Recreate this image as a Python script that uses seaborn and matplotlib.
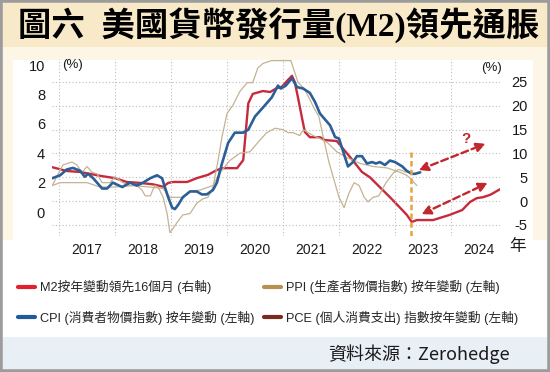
import matplotlib
matplotlib.use("Agg")
import matplotlib.pyplot as plt
import seaborn as sns
import pandas as pd
from matplotlib.patches import Rectangle
from matplotlib.lines import Line2D

# ---------------- data ----------------
title_text = "圖六  美國貨幣發行量(M2)領先通脹"
source_text = "資料來源：Zerohedge"
year_labels = ["2017", "2018", "2019", "2020", "2021", "2022", "2023", "2024"]
left_ticks = [0, 2, 4, 6, 8, 10]
right_ticks = [-5, 0, 5, 10, 15, 20, 25]

legend_labels = ["M2按年變動領先16個月 (右軸)",
                 "CPI (消費者物價指數) 按年變動 (左軸)",
                 "PPI (生產者物價指數) 按年變動 (左軸)",
                 "PCE (個人消費支出) 指數按年變動 (左軸)"]

# M2 y/y change shifted 16 months (right axis, %)
m2_t = [2016.88, 2017.14, 2017.38, 2017.73, 2018.00, 2018.21, 2018.45, 2018.68,
        2018.86, 2018.95, 2019.04, 2019.29, 2019.46, 2019.66, 2019.82, 2019.93,
        2020.18, 2020.29, 2020.38, 2020.46, 2020.64, 2020.77, 2020.89, 2020.98,
        2021.07, 2021.16, 2021.21, 2021.27, 2021.34, 2021.39, 2021.48, 2021.66,
        2021.75, 2021.96, 2022.05, 2022.20, 2022.41, 2022.55, 2022.73, 2022.91,
        2023.13, 2023.21, 2023.30, 2023.39, 2023.68, 2023.98, 2024.20, 2024.34,
        2024.46, 2024.57, 2024.70, 2024.88]
m2_v = [7.1, 6.3, 6.1, 5.3, 4.8, 4.0, 3.8, 3.5,
        3.0, 3.8, 4.0, 4.0, 4.8, 5.5, 6.5, 6.9,
        6.9, 8.6, 20.5, 22.5, 23.1, 22.9, 23.7, 24.0,
        25.2, 26.3, 25.0, 21.6, 17.4, 14.5, 13.4, 13.4,
        12.8, 12.6, 11.3, 9.2, 6.1, 5.0, 2.9, 0.8,
        -1.9, -2.9, -4.4, -4.0, -4.0, -2.9, -1.9, -0.2,
        0.6, 0.8, 1.3, 2.5]

# CPI y/y (left axis, %)
cpi_t = [2016.88, 2017.02, 2017.14, 2017.25, 2017.38, 2017.46, 2017.52, 2017.61,
         2017.77, 2017.86, 2017.96, 2018.13, 2018.27, 2018.39, 2018.50, 2018.63,
         2018.75, 2018.84, 2018.89, 2018.95, 2019.02, 2019.07, 2019.13, 2019.21,
         2019.34, 2019.46, 2019.55, 2019.64, 2019.75, 2019.82, 2019.91, 2020.02,
         2020.14, 2020.29, 2020.38, 2020.50, 2020.64, 2020.80, 2020.91, 2020.96,
         2021.05, 2021.16, 2021.25, 2021.36, 2021.48, 2021.57, 2021.66, 2021.75,
         2021.84, 2021.93, 2022.00, 2022.05, 2022.16, 2022.25, 2022.32, 2022.41,
         2022.50, 2022.59, 2022.66, 2022.73, 2022.82, 2022.91, 2023.00, 2023.13,
         2023.21, 2023.30, 2023.36, 2023.45]
cpi_v = [2.3, 2.5, 2.9, 3.0, 2.8, 2.4, 2.6, 2.3,
         1.6, 1.6, 2.0, 1.7, 2.0, 1.8, 2.0, 2.3,
         2.5, 2.3, 1.7, 1.0, 0.3, 0.2, 0.5, 1.0,
         1.4, 1.4, 1.2, 1.2, 1.5, 2.0, 3.3, 4.7,
         5.4, 5.4, 5.6, 6.5, 7.1, 7.8, 8.6, 8.4,
         8.6, 9.1, 8.5, 8.4, 8.1, 7.5, 6.7, 6.3,
         5.9, 5.1, 5.0, 4.4, 3.1, 3.4, 3.8, 3.8,
         3.3, 3.4, 3.3, 3.4, 3.2, 3.5, 3.4, 3.1,
         2.8, 2.6, 2.6, 2.7]

# PPI y/y (left axis, %)
ppi_t = [2016.88, 2016.96, 2017.07, 2017.23, 2017.32, 2017.41, 2017.50, 2017.59,
         2017.68, 2017.77, 2017.91, 2018.00, 2018.14, 2018.27, 2018.39, 2018.48,
         2018.54, 2018.63, 2018.71, 2018.77, 2018.86, 2018.93, 2018.98, 2019.04,
         2019.11, 2019.21, 2019.34, 2019.46, 2019.57, 2019.66, 2019.75, 2019.84,
         2019.91, 2020.00, 2020.11, 2020.23, 2020.36, 2020.46, 2020.55, 2020.64,
         2020.71, 2020.80, 2021.00, 2021.14, 2021.27, 2021.38, 2021.46, 2021.55,
         2021.64, 2021.73, 2021.82, 2021.91, 2022.00, 2022.09, 2022.18, 2022.27,
         2022.36, 2022.45, 2022.52, 2022.61, 2022.71, 2022.84, 2022.98, 2023.07,
         2023.20]
ppi_v = [1.8, 2.4, 3.2, 3.4, 3.2, 2.7, 3.1, 2.7,
         2.6, 2.0, 2.0, 2.4, 2.0, 1.8, 1.8, 1.5,
         1.1, 1.1, 1.8, 1.7, 1.0, -0.1, -1.4, -1.1,
         -0.7, -0.2, -0.1, 0.6, 0.9, 1.0, 1.7, 3.5,
         5.1, 6.7, 7.3, 8.2, 8.8, 8.8, 9.8, 10.1,
         10.2, 10.3, 10.3, 10.3, 8.8, 8.4, 7.8, 7.1,
         6.5, 4.9, 3.4, 2.2, 1.0, 0.3, 1.3, 2.0,
         1.8, 1.0, 0.7, 1.0, 1.1, 2.0, 2.7, 2.9,
         2.7]

# PCE y/y (left axis, %)
pce_t = [2016.88, 2017.02, 2017.50, 2017.73, 2018.00, 2018.32, 2018.63, 2018.86,
         2018.98, 2019.20, 2019.34, 2019.52, 2019.75, 2019.88, 2020.05, 2020.23,
         2020.41, 2020.59, 2020.71, 2020.86, 2021.00, 2021.09, 2021.18, 2021.30,
         2021.36, 2021.54, 2021.66, 2021.80, 2021.96, 2022.14, 2022.38, 2022.61,
         2022.86, 2023.09, 2023.21, 2023.27, 2023.39]
pce_v = [1.8, 2.0, 2.0, 1.7, 1.7, 1.8, 1.7, 1.6,
         1.0, 1.0, 1.4, 1.5, 1.8, 2.7, 3.5, 4.0,
         4.1, 4.9, 5.4, 5.7, 5.6, 5.4, 5.4, 5.2,
         5.6, 5.2, 5.0, 4.7, 4.1, 3.7, 3.3, 3.1,
         3.0, 2.7, 2.5, 2.3, 1.8]

# annotations (left-axis data units)
turn_year = 2023.29
arrow_up = [(2023.42, 2.85), (2024.62, 4.65)]
arrow_low = [(2023.47, -0.15), (2024.66, 1.98)]
qmark_pos = (2024.27, 4.95)

# ---------------- styling ----------------
C_RED = "#c62a3c"
C_BLUE = "#2c5e98"
C_TAN = "#c4b393"
LEG_RED = "#e0202e"
LEG_BLUE = "#1f5a9c"
LEG_TAN = "#b8914f"
LEG_BROWN = "#7a2b20"

sns.set_theme(style="white")
plt.rcParams["font.family"] = ["Liberation Sans", "Noto Sans CJK TC", "DejaVu Sans"]

W, H = 550, 372
fig = plt.figure(figsize=(5.5, 3.72), dpi=100)
fig.patch.set_facecolor("white")


def frect(x0, y0, x1, y1, color, z=-10):
    r = Rectangle((x0 / W, 1 - y1 / H), (x1 - x0) / W, (y1 - y0) / H,
                  transform=fig.transFigure, facecolor=color, edgecolor="none",
                  zorder=z)
    fig.patches.append(r)


frect(0, 0, 550, 47, "#f8e9c9")
frect(0, 47, 550, 240, "#fdf5e6")
frect(13, 60, 533, 337, "white")
frect(0, 240, 550, 337, "white")
frect(0, 337, 550, 372, "#e8eff5")
fig.patches.append(Rectangle((0, 0), 1, 1, transform=fig.transFigure,
                             fill=False, edgecolor="#9c9c9c", lw=4, zorder=5))

ax = fig.add_axes([52 / W, 1 - 236 / H, 448 / W, 177 / H])
ax2 = ax.twinx()
ax.set_zorder(ax2.get_zorder() + 1)
ax.patch.set_visible(False)
ax2.patch.set_visible(False)

# right axis: M2
sns.lineplot(x=m2_t, y=m2_v, ax=ax2, color=C_RED, lw=1.7, sort=False,
             estimator=None)
# left axis: CPI, PPI, PCE
sns.lineplot(x=ppi_t, y=ppi_v, ax=ax, color=C_TAN, lw=0.9, sort=False,
             estimator=None)
sns.lineplot(x=pce_t, y=pce_v, ax=ax, color=C_TAN, lw=0.9, sort=False,
             estimator=None)
sns.lineplot(x=cpi_t, y=cpi_v, ax=ax, color=C_BLUE, lw=1.9, sort=False,
             estimator=None)

ax.set_xlim(2016.875, 2024.875)
ax.set_ylim(-1.63, 10.41)
ax2.set_ylim(-7.35, 29.83)

for a in (ax, ax2):
    for s in a.spines.values():
        s.set_visible(False)
    a.set_xlabel("")
    a.set_ylabel("")

year_starts = [int(y) for y in year_labels]
ax.set_xticks([y + 0.5 for y in year_starts])
ax.set_xticklabels(year_labels, fontsize=10, color="#1a1a1a")
ax.set_xticks(year_starts, minor=True)
ax.tick_params(axis="x", which="major", length=3.5, width=0.9, color="#444444",
               direction="out", pad=1.5)
ax.tick_params(axis="x", which="minor", length=0)
ax.grid(which="minor", axis="x", ls=(0, (1, 2)), color="#bdbdbd", lw=0.8)
ax.grid(which="major", axis="x", visible=False)
ax.grid(axis="y", visible=False)

ax.set_yticks(left_ticks)
ax.set_yticklabels([str(v) for v in left_ticks], fontsize=10.5, color="#1a1a1a")
ax.tick_params(axis="y", length=0, pad=5)

ax2.set_yticks(right_ticks)
ax2.set_yticklabels([str(v) for v in right_ticks], fontsize=10.5, color="#1a1a1a")
ax2.tick_params(axis="y", length=0, pad=20)
for lab in ax2.get_yticklabels():
    lab.set_horizontalalignment("right")
ax2.grid(axis="y", ls=(0, (1, 2)), color="#bdbdbd", lw=0.8)
ax2.grid(axis="x", visible=False)

ax.text(0.022, 0.966, "(%)", transform=ax.transAxes, fontsize=9.5,
        va="center", ha="left", color="#1a1a1a")
ax.text(1.004, 0.949, "(%)", transform=ax.transAxes, fontsize=9.5,
        va="center", ha="right", color="#1a1a1a")
fig.text(518 / W, 1 - 247 / H, "年", fontsize=12, ha="center", va="center",
         family=["Noto Sans CJK TC"], color="#1a1a1a")

# turning point & arrows
ax.axvline(turn_year, ymin=0, ymax=0.475, color="#e8a33d", lw=1.8,
           ls=(0, (2.2, 1.3)), zorder=6)
for (x0, y0), (x1, y1) in (arrow_up, arrow_low):
    ax.annotate("", xy=(x1, y1), xytext=(x0, y0),
                arrowprops=dict(arrowstyle="<|-|>,head_length=0.45,head_width=0.22",
                                color="#c1272d", lw=1.7, ls=(0, (3, 1.6)),
                                shrinkA=0, shrinkB=0), zorder=7)
ax.text(qmark_pos[0], qmark_pos[1], "?", color="#c1272d", fontsize=11,
        fontweight="bold", ha="center", va="center", zorder=7)

# title
fig.text(279 / W, 1 - 25 / H, title_text, fontsize=24, fontweight="bold",
         ha="center", va="center", color="black",
         family=["Liberation Serif", "Noto Sans CJK TC"])

# legend
handles = [Line2D([], [], color=LEG_RED, lw=3),
           Line2D([], [], color=LEG_BLUE, lw=3),
           Line2D([], [], color=LEG_TAN, lw=3),
           Line2D([], [], color=LEG_BROWN, lw=3)]
fig.legend(handles, legend_labels, ncol=2, loc="upper left",
           bbox_to_anchor=(18 / W, 1 - 280 / H), frameon=False,
           borderpad=0, borderaxespad=0, handlelength=1.33, handletextpad=0.4,
           columnspacing=0.75, labelspacing=1.3,
           prop=dict(family=["Liberation Sans", "Noto Sans CJK TC"], size=9.2))

fig.text(510 / W, 1 - 354 / H, source_text, fontsize=13, ha="right",
         va="center", color="#1a1a1a",
         family=["Noto Sans CJK TC", "Liberation Sans"])

fig.savefig("out.png", dpi=100)
